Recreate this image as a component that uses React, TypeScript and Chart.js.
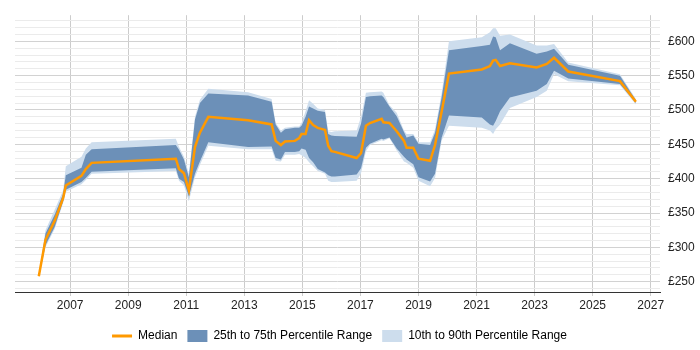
import React, { useEffect, useRef } from "react";
import { Chart, registerables } from "chart.js";

Chart.register(...registerables);

const years = [
  2005.92, 2006.15, 2006.47, 2006.76, 2006.85, 2007.39, 2007.54, 2007.74, 2010.64, 2010.75,
  2010.92, 2011.09, 2011.3, 2011.47, 2011.76, 2013.13, 2013.94, 2014.08, 2014.26, 2014.4,
  2014.74, 2014.89, 2014.97, 2015.11, 2015.23, 2015.37, 2015.53, 2015.78, 2015.89, 2016.0,
  2016.12, 2016.87, 2017.02, 2017.19, 2017.33, 2017.73, 2017.79, 2018.0, 2018.25, 2018.5,
  2018.59, 2018.82, 2019.0, 2019.4, 2019.57, 2019.8, 2020.05, 2021.18, 2021.46, 2021.57,
  2021.66, 2021.81, 2022.15, 2023.07, 2023.42, 2023.67, 2024.16, 2025.94, 2026.49,
];

const p10 = [
  256, 300, 327, 365, 381, 392, 398, 407, 411, 397,
  390, 367, 402, 420, 448, 443, 443, 426, 425, 435,
  435, 436, 434, 430, 424, 418, 411, 407, 397, 395,
  395, 397, 408, 440, 449, 456, 455, 459, 441, 425,
  423, 416, 397, 389, 401, 456, 477, 474, 470, 465,
  472, 479, 503, 519, 528, 552, 542, 536, 508,
];

const p25 = [
  257, 303, 330, 367, 384, 395, 401, 410, 415, 400,
  395, 374, 407, 425, 453, 446, 447, 430, 428, 439,
  439, 440, 444, 442, 430, 424, 414, 409, 405, 403,
  403, 406, 415, 445, 451, 458, 457, 460, 444, 432,
  428, 421, 402, 396, 407, 460, 492, 489, 479, 477,
  484, 498, 518, 528, 538, 557, 546, 538, 510,
];

const median = [
  258, 311, 339, 372, 390, 404, 414, 423, 429, 414,
  408, 383, 446, 467, 490, 485, 479, 455, 449, 454,
  455, 459, 465, 465, 485, 478, 474, 471, 448, 440,
  439, 430, 437, 477, 481, 487, 482, 481, 469, 455,
  445, 445, 429, 426, 449, 498, 553, 559, 564, 572,
  573, 564, 568, 562, 567, 576, 556, 542, 512,
];

const p75 = [
  259, 320, 348, 378, 405, 416, 435, 443, 449, 442,
  428, 402, 486, 510, 524, 521, 512, 479, 467, 472,
  474, 474, 477, 490, 505, 502, 499, 497, 465, 463,
  462, 461, 480, 519, 520, 521, 519, 505, 491, 468,
  460, 463, 451, 449, 467, 519, 587, 593, 595, 607,
  606, 587, 597, 582, 585, 589, 566, 550, 514,
];

const p90 = [
  260, 325, 355, 383, 418, 432, 444, 453, 458, 446,
  432, 407, 490, 515, 531, 526, 516, 481, 470, 474,
  476, 476, 481, 498, 514, 509, 502, 500, 469, 468,
  469, 470, 490, 525, 526, 527, 525, 507, 496, 470,
  465, 465, 453, 453, 472, 525, 600, 606, 613, 619,
  619, 608, 610, 594, 594, 596, 569, 552, 516,
];

const xTickYears = [2007, 2009, 2011, 2013, 2015, 2017, 2019, 2021, 2023, 2025, 2027];
const yGridValues = [240, 250, 260, 270, 280, 290, 300, 310, 320, 330, 340, 350, 360, 370, 380, 390, 400, 410, 420, 430, 440, 450, 460, 470, 480, 490, 500, 510, 520, 530, 540, 550, 560, 570, 580, 590, 600, 610, 620, 630];

const legendLabels = ["Median", "25th to 75th Percentile Range", "10th to 90th Percentile Range"];

const ORANGE = "#ff9900";
const DARK = "rgb(108,144,184)";
const LIGHT = "rgb(205,221,237)";
const FONT = "'Liberation Sans', Arial, sans-serif";

const pts = (vals: number[]) => years.map((x, i) => ({ x, y: vals[i] }));

const legendShift = {
  id: "legendShift",
  afterLayout(chart: any) {
    const lg = chart.legend;
    if (!lg) return;
    lg.left = chart.chartArea.left;
    lg.right = chart.chartArea.right + 4;
    lg.top += 2;
    lg.bottom += 2;
  },
};

export default function App() {
  const ref = useRef<HTMLCanvasElement | null>(null);

  useEffect(() => {
    if (!ref.current) return;
    const chart = new Chart(ref.current, {
      type: "line",
      plugins: [legendShift],
      data: {
        datasets: [
          {
            label: legendLabels[0],
            data: pts(median),
            borderColor: ORANGE,
            borderWidth: 2.5,
            pointRadius: 0,
            fill: false,
            order: 0,
            tension: 0,
          },
          {
            label: legendLabels[1],
            data: pts(p75),
            borderWidth: 0,
            borderColor: "transparent",
            backgroundColor: DARK,
            pointRadius: 0,
            fill: "+1",
            order: 1,
          },
          {
            label: "p25",
            data: pts(p25),
            borderWidth: 0,
            borderColor: "transparent",
            pointRadius: 0,
            fill: false,
            order: 1,
          },
          {
            label: legendLabels[2],
            data: pts(p90),
            borderWidth: 0,
            borderColor: "transparent",
            backgroundColor: LIGHT,
            pointRadius: 0,
            fill: "+1",
            order: 2,
          },
          {
            label: "p10",
            data: pts(p10),
            borderWidth: 0,
            borderColor: "transparent",
            pointRadius: 0,
            fill: false,
            order: 2,
          },
        ],
      },
      options: {
        responsive: false,
        animation: false,
        layout: { padding: { left: 15, top: 5, right: 0, bottom: 0 } },
        plugins: {
          tooltip: { enabled: false },
          legend: {
            position: "bottom",
            labels: {
              usePointStyle: true,
              pointStyleWidth: 20,
              boxHeight: 12,
              padding: 10,
              color: "#333",
              font: { family: FONT, size: 12 },
              generateLabels: () => [
                { text: legendLabels[0], fillStyle: ORANGE, strokeStyle: ORANGE, lineWidth: 3, pointStyle: "line", hidden: false, datasetIndex: 0 },
                { text: legendLabels[1], fillStyle: DARK, strokeStyle: DARK, lineWidth: 0, pointStyle: "rect", hidden: false, datasetIndex: 1 },
                { text: legendLabels[2], fillStyle: LIGHT, strokeStyle: LIGHT, lineWidth: 0, pointStyle: "rect", hidden: false, datasetIndex: 3 },
              ],
            },
          },
        },
        scales: {
          x: {
            type: "linear",
            min: 2005.1,
            max: 2027.32,
            afterBuildTicks: (scale: any) => {
              scale.ticks = xTickYears.map((v) => ({ value: v }));
            },
            afterFit: (scale: any) => {
              scale.height = 26;
            },
            grid: {
              color: "#cccccc",
              lineWidth: 1,
              drawTicks: true,
              tickLength: 4,
              tickColor: "#cccccc",
            },
            border: { display: true, color: "#333333", width: 1 },
            ticks: {
              autoSkip: false,
              maxRotation: 0,
              padding: 2,
              color: "#222",
              font: { family: FONT, size: 12 },
              callback: (v: any) => String(v),
            },
          },
          y: {
            type: "linear",
            position: "right",
            min: 235,
            max: 638,
            afterBuildTicks: (scale: any) => {
              scale.ticks = yGridValues.map((v) => ({ value: v }));
            },
            afterFit: (scale: any) => {
              scale.width = 40;
            },
            grid: {
              color: (c: any) => (c.tick && c.tick.value % 50 === 0 ? "#d2d2d2" : "#ebebeb"),
              lineWidth: 1,
              drawTicks: false,
            },
            border: { display: false },
            ticks: {
              autoSkip: false,
              padding: 8,
              color: "#222",
              font: { family: FONT, size: 12 },
              callback: (v: any) => (Number(v) % 50 === 0 ? "£" + v : ""),
            },
          },
        },
      },
    });
    return () => chart.destroy();
  }, []);

  return (
    <div style={{ position: "absolute", left: 0, top: 0, width: 700, height: 350 }}>
      <canvas ref={ref} width={700} height={350} style={{ display: "block" }} />
    </div>
  );
}
